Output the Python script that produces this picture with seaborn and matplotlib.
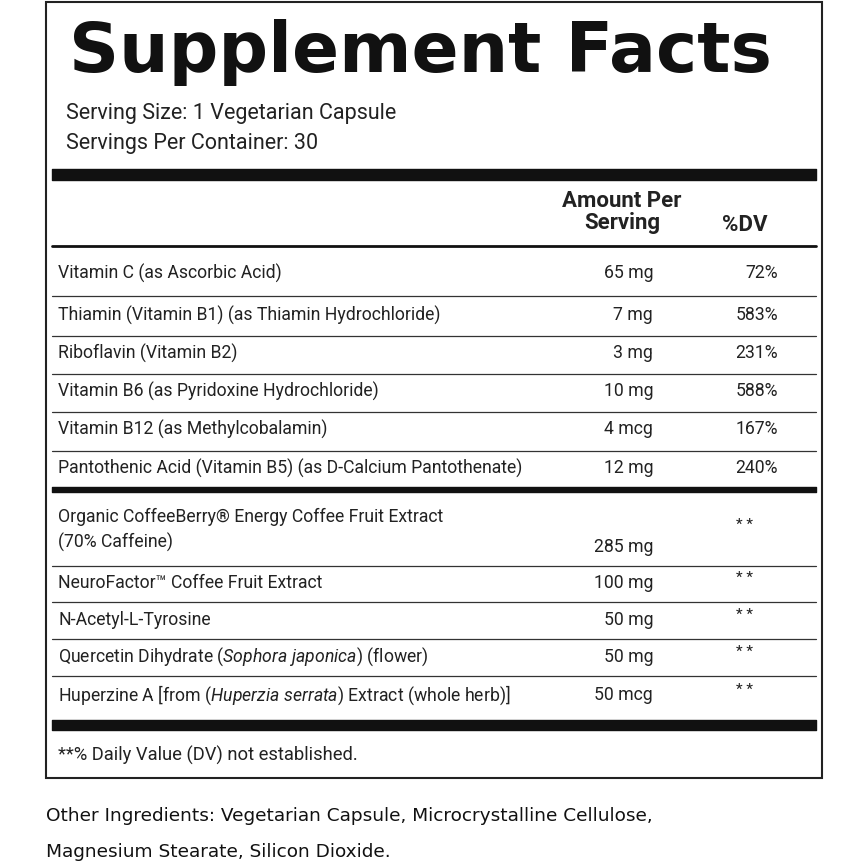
import matplotlib
matplotlib.use("Agg")
import matplotlib.pyplot as plt
import seaborn as sns

sns.set_style("white")
FAM = ['Roboto', 'DejaVu Sans']
plt.rcParams['font.family'] = FAM
plt.rcParams['mathtext.fontset'] = 'custom'
plt.rcParams['mathtext.rm'] = 'Roboto'
plt.rcParams['mathtext.it'] = 'Roboto:italic'

title = "Supplement Facts"
serving = ["Serving Size: 1 Vegetarian Capsule", "Servings Per Container: 30"]
vit_names = ["Vitamin C (as Ascorbic Acid)",
             "Thiamin (Vitamin B1) (as Thiamin Hydrochloride)",
             "Riboflavin (Vitamin B2)",
             "Vitamin B6 (as Pyridoxine Hydrochloride)",
             "Vitamin B12 (as Methylcobalamin)",
             "Pantothenic Acid (Vitamin B5) (as D-Calcium Pantothenate)"]
vit_amounts = ["65 mg", "7 mg", "3 mg", "10 mg", "4 mcg", "12 mg"]
vit_dv = ["72%", "583%", "231%", "588%", "167%", "240%"]
oth_names = ["Organic CoffeeBerry® Energy Coffee Fruit Extract\n(70% Caffeine)",
             "NeuroFactor™ Coffee Fruit Extract",
             "N-Acetyl-L-Tyrosine",
             r"Quercetin Dihydrate ($\it{Sophora\ japonica}$) (flower)",
             r"Huperzine A [from ($\it{Huperzia\ serrata}$) Extract (whole herb)]"]
oth_amounts = ["285 mg", "100 mg", "50 mg", "50 mg", "50 mcg"]
footnote = "**% Daily Value (DV) not established."
other = ["Other Ingredients: Vegetarian Capsule, Microcrystalline Cellulose,",
         "Magnesium Stearate, Silicon Dioxide."]

fig = plt.figure(figsize=(8.68, 8.68), dpi=100)
ax = fig.add_axes([0, 0, 1, 1])
ax.set_xlim(0, 868); ax.set_ylim(868, 0); ax.axis('off')

ax.add_patch(plt.Rectangle((46, 2), 776, 776, fill=False, lw=1.5, ec='#222'))
ax.text(420, 52, title, ha='center', va='center', fontsize=50, fontweight='heavy',
        family=['DejaVu Sans'], color='#111')
for i, s in enumerate(serving):
    ax.text(66, 113 + 30 * i, s, va='center', fontsize=15.5, color='#222')
ax.fill_between([52, 816], 169, 180, color='#111')
ax.text(622, 212, "Amount Per\nServing", ha='center', va='center', fontsize=16,
        fontweight='bold', linespacing=1.0, color='#222')
ax.text(745, 225, "%DV", ha='center', va='center', fontsize=16, fontweight='bold', color='#222')
ax.plot([52, 816], [246, 246], color='#111', lw=2)

FS = 12.7
ys = [273, 315, 353, 391, 429, 468]
for k, (n, a, d) in enumerate(zip(vit_names, vit_amounts, vit_dv)):
    y = ys[k]
    ax.text(58, y, n, va='center', fontsize=FS, color='#222')
    ax.text(653, y, a, va='center', ha='right', fontsize=FS, color='#222')
    ax.text(778, y, d, va='center', ha='right', fontsize=FS, color='#222')
    if k < len(ys) - 1:
        ax.plot([52, 816], [(y + ys[k + 1]) / 2 + 2] * 2, color='#333', lw=0.9)
ax.fill_between([52, 816], 487, 492, color='#111')

ys2 = [530, 583, 620, 657, 695]
for k, (n, a) in enumerate(zip(oth_names, oth_amounts)):
    y = ys2[k]
    ax.text(58, y, n, va='center', fontsize=FS, color='#222', linespacing=1.4)
    ax.text(653, 547 if k == 0 else y, a, va='center', ha='right', fontsize=FS, color='#222')
    ax.text(745, 525 if k == 0 else y - 5, "* *", va='center', ha='center', fontsize=11, color='#222')
for yl in [566, 602, 639, 676]:
    ax.plot([52, 816], [yl, yl], color='#333', lw=0.9)
ax.fill_between([52, 816], 720, 730, color='#111')
ax.text(58, 755, footnote, va='center', fontsize=FS + 0.5, color='#222')
for i, s in enumerate(other):
    ax.text(46, 816 + 36 * i, s, va='center', fontsize=13.3, color='#111',
            family=['DejaVu Sans'])

fig.savefig("out.png", dpi=100)
